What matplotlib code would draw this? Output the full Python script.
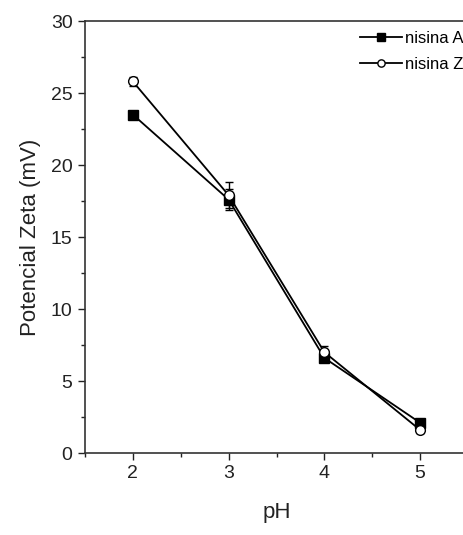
import matplotlib
matplotlib.use("Agg")
import matplotlib.pyplot as plt
from matplotlib.ticker import MultipleLocator

plt.rcParams['font.family'] = ['Liberation Sans', 'DejaVu Sans']

ph = [2, 3, 4, 5]
nisina_a = [23.5, 17.6, 6.6, 2.1]
nisina_a_err = [0.2, 0.7, 0.3, 0.2]
nisina_z = [25.8, 17.9, 7.0, 1.6]
nisina_z_err = [0.3, 0.9, 0.4, 0.2]
labels = ['nisina A', 'nisina Z']

fig = plt.figure(figsize=(4.63, 5.35), dpi=100)
ax = fig.add_axes([85 / 463, 82 / 535, 383 / 463, 432 / 535])

ea = ax.errorbar(ph, nisina_a, yerr=nisina_a_err, color='black', lw=1.3,
                 marker='s', ms=7, mfc='black', mec='black',
                 capsize=3, elinewidth=1)
ez = ax.errorbar(ph, nisina_z, yerr=nisina_z_err, color='black', lw=1.3,
                 marker='o', ms=7, mfc='white', mec='black',
                 capsize=3, elinewidth=1)

ax.set_xlim(1.5, 5.5)
ax.set_ylim(0, 30)
ax.xaxis.set_major_locator(MultipleLocator(1))
ax.xaxis.set_minor_locator(MultipleLocator(0.5))
ax.yaxis.set_major_locator(MultipleLocator(5))
ax.yaxis.set_minor_locator(MultipleLocator(2.5))
ax.tick_params(which='both', direction='out', top=False, right=False,
               labelsize=14, width=1, colors='#222222')
ax.tick_params(which='major', length=5, pad=4)
ax.tick_params(which='minor', length=3)
for s in ax.spines.values():
    s.set_linewidth(1.2)
    s.set_color('#333333')

ax.set_xlabel('pH', fontsize=16, labelpad=14, color='#222222')
ax.set_ylabel('Potencial Zeta (mV)', fontsize=16, labelpad=7, color='#222222')

leg = ax.legend([ea[0], ez[0]], labels, loc='upper left',
                bbox_to_anchor=(352 / 463, 1 - 23 / 535),
                bbox_transform=fig.transFigure, frameon=False, fontsize=12,
                borderpad=0, handlelength=2.5, handletextpad=0.2,
                labelspacing=0.65, markerscale=0.75)

fig.savefig('out.png', dpi=100)
